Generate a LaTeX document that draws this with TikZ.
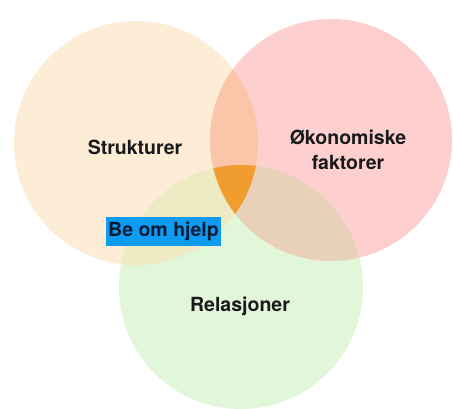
\documentclass[tikz,border=0pt]{standalone}
\usepackage{fontspec}
\setmainfont{TeX Gyre Heros}
\definecolor{cAcol}{HTML}{FDEDD6}
\definecolor{cBcol}{HTML}{FDD0CF}
\definecolor{cCcol}{HTML}{E2F6DA}
\definecolor{cABcol}{HTML}{FBC5AA}
\definecolor{cACcol}{HTML}{EDEAC4}
\definecolor{cBCcol}{HTML}{E8D1B8}
\definecolor{cABCcol}{HTML}{F09C2E}
\definecolor{boxblue}{HTML}{0E9BF2}
\definecolor{txtdark}{HTML}{1A1A1A}
\definecolor{navytxt}{HTML}{0A1A33}
\tikzset{
  lbl/.style={font=\fontsize{19.5}{25}\selectfont\bfseries, text=txtdark, align=center, inner sep=0pt},
  helpbox/.style={font=\fontsize{19.5}{25}\selectfont\bfseries, text=navytxt, fill=boxblue, inner xsep=2.5pt, minimum height=29pt, text height=14pt, text depth=4pt}
}
\begin{document}
\begin{tikzpicture}[x=1pt,y=-1pt]
\useasboundingbox (0,0) rectangle (453,409);
\fill[white] (0,0) rectangle (453,409);
\coordinate (cA) at (136,143);
\coordinate (cB) at (331,140);
\coordinate (cC) at (241,287);
\def\rA{122}\def\rB{121}\def\rC{122}
\fill[cAcol] (cA) circle[radius=\rA];
\fill[cBcol] (cB) circle[radius=\rB];
\fill[cCcol] (cC) circle[radius=\rC];
\begin{scope}
  \clip (cA) circle[radius=\rA];
  \fill[cABcol] (cB) circle[radius=\rB];
  \fill[cACcol] (cC) circle[radius=\rC];
\end{scope}
\begin{scope}
  \clip (cB) circle[radius=\rB];
  \fill[cBCcol] (cC) circle[radius=\rC];
\end{scope}
\begin{scope}
  \clip (cA) circle[radius=\rA];
  \clip (cB) circle[radius=\rB];
  \fill[cABCcol] (cC) circle[radius=\rC];
\end{scope}
\node[lbl] (struk) at (135,147) {Strukturer};
\node[lbl] (okon) at (348,150) {Økonomiske\\faktorer};
\node[lbl] (rel) at (240,306) {Relasjoner};
\node[helpbox] (help) at (163.5,231.5) {Be om hjelp};
\end{tikzpicture}
\end{document}
